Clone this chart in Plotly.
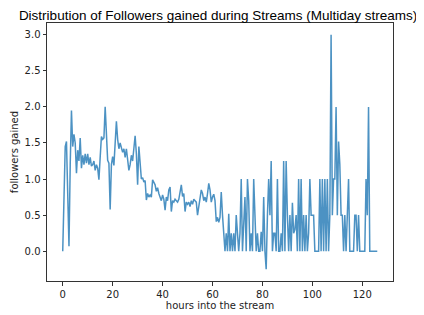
import plotly.graph_objects as go

# followers gained, sampled every 0.5 hours from hour 0 to hour 126
followers = [
    0.0, 0.72, 1.45, 1.52, 0.8, 0.07, 1.2, 1.95, 1.45, 1.62,
    1.5, 1.08, 1.4, 1.25, 1.57, 1.15, 1.33, 1.2, 1.35, 1.22,
    1.35, 1.2, 1.3, 1.18, 1.2, 1.25, 1.12, 1.2, 1.15, 0.99,
    1.3, 1.59, 1.55, 1.57, 2.0, 1.5, 1.26, 1.22, 0.58, 1.2,
    1.31, 1.19, 1.49, 1.8, 1.55, 1.42, 1.5, 1.45, 1.37, 1.42,
    1.3, 1.42, 1.3, 1.12, 1.2, 1.33, 1.25, 1.4, 1.6, 1.35,
    0.92, 1.45, 1.25, 1.0, 1.02, 0.96, 0.98, 0.71, 0.8, 0.75,
    0.78, 0.75, 0.99, 0.95, 0.92, 0.83, 0.88, 0.8, 0.75, 0.7,
    0.78, 0.72, 0.57, 0.75, 0.7, 0.85, 0.89, 0.55, 0.7, 0.68,
    0.72, 0.7, 0.68, 0.72, 0.8, 0.92, 0.76, 0.8, 0.55, 0.68,
    0.65, 0.68, 0.62, 0.7, 0.65, 0.72, 0.7, 0.68, 0.5, 0.6,
    0.72, 0.85, 0.8, 0.7, 0.75, 0.68, 0.8, 0.94, 0.85, 0.68,
    0.75, 0.79, 0.7, 0.41, 0.47, 0.4, 0.47, 0.82, 0.5, 0.25,
    0.0, 0.25, 0.0, 0.52, 0.0, 0.25, 0.0, 0.25, 0.0, 0.5,
    0.25, 0.0, 0.25, 1.0, 0.0, 0.5, 0.75, 0.0, 1.0, 0.7,
    0.0, 0.25, 0.0, 1.0, 0.5, 0.0, 0.25, 0.0, 0.0, 0.27,
    0.0, 0.75, 0.0, -0.25, 0.5, 1.0, 0.5, 1.25, 0.0, 0.25,
    0.25, 0.0, 1.0, 0.0, 0.0, 0.25, 0.0, 1.25, 0.0, 1.25,
    0.5, 0.0, 0.5, 0.0, 0.67, 0.25, 0.3, 0.5, 0.0, 1.0,
    0.0, 1.0, 0.0, 0.5, 0.0, 0.5, 0.0, 0.25, 1.0, 0.5,
    0.5, 0.5, 0.0, 0.0, 0.0, 0.0, 1.0, 0.0, 1.0, 0.0,
    1.0, 0.0, 1.0, 0.0, 0.5, 3.0, 0.5, 1.0, 1.0, 2.0,
    0.5, 1.52, 1.2, 0.5, 0.5, 0.0, 0.5, 0.0, 0.5, 1.0,
    0.0, 0.0, 0.0, 0.0, 0.5, 0.5, 0.0, 0.5, 0.0, 0.0,
    0.0, 0.0, 0.0, 1.0, 0.5, 2.0, 0.0, 0.0, 0.0, 0.0,
    0.0, 0.0, 0.0,
]
hours = [i * 0.5 for i in range(len(followers))]

x_ticks = [0, 20, 40, 60, 80, 100, 120]
y_ticks = [0.0, 0.5, 1.0, 1.5, 2.0, 2.5, 3.0]

title_text = "Distribution of Followers gained during Streams (Multiday streams)"
x_title = "hours into the stream"
y_title = "followers gained"

fig = go.Figure(
    go.Scatter(
        x=hours,
        y=followers,
        mode="lines",
        line=dict(color="rgba(31,119,180,0.8)", width=1.5),
        hoverinfo="skip",
    )
)

axis_common = dict(
    showgrid=False,
    zeroline=False,
    showline=True,
    linecolor="#333333",
    linewidth=1,
    mirror=True,
    ticks="outside",
    ticklen=3.5,
    tickwidth=0.8,
    tickcolor="#333333",
    automargin=False,
    tickfont=dict(family="DejaVu Sans", size=10, color="#222222"),
)

# the page body adds an 8px margin, so the figure is sized to fit inside it
fig.update_layout(
    width=416,
    height=307,
    paper_bgcolor="white",
    plot_bgcolor="white",
    margin=dict(l=39, r=31, t=15, b=34),
    showlegend=False,
    title=dict(
        text=title_text,
        x=0.505,
        xanchor="center",
        y=0.976,
        yanchor="middle",
        font=dict(family="Liberation Sans", size=13.5, color="black"),
    ),
    xaxis=dict(
        range=[-6.3, 132.3],
        tickvals=x_ticks,
        title=dict(text=x_title, standoff=0,
                   font=dict(family="DejaVu Sans", size=10, color="#222222")),
        **axis_common,
    ),
    yaxis=dict(
        range=[-0.4125, 3.1625],
        tickvals=y_ticks,
        tickformat=".1f",
        title=dict(text=y_title, standoff=4,
                   font=dict(family="DejaVu Sans", size=10, color="#222222")),
        **axis_common,
    ),
)

fig.write_html("out.html")
